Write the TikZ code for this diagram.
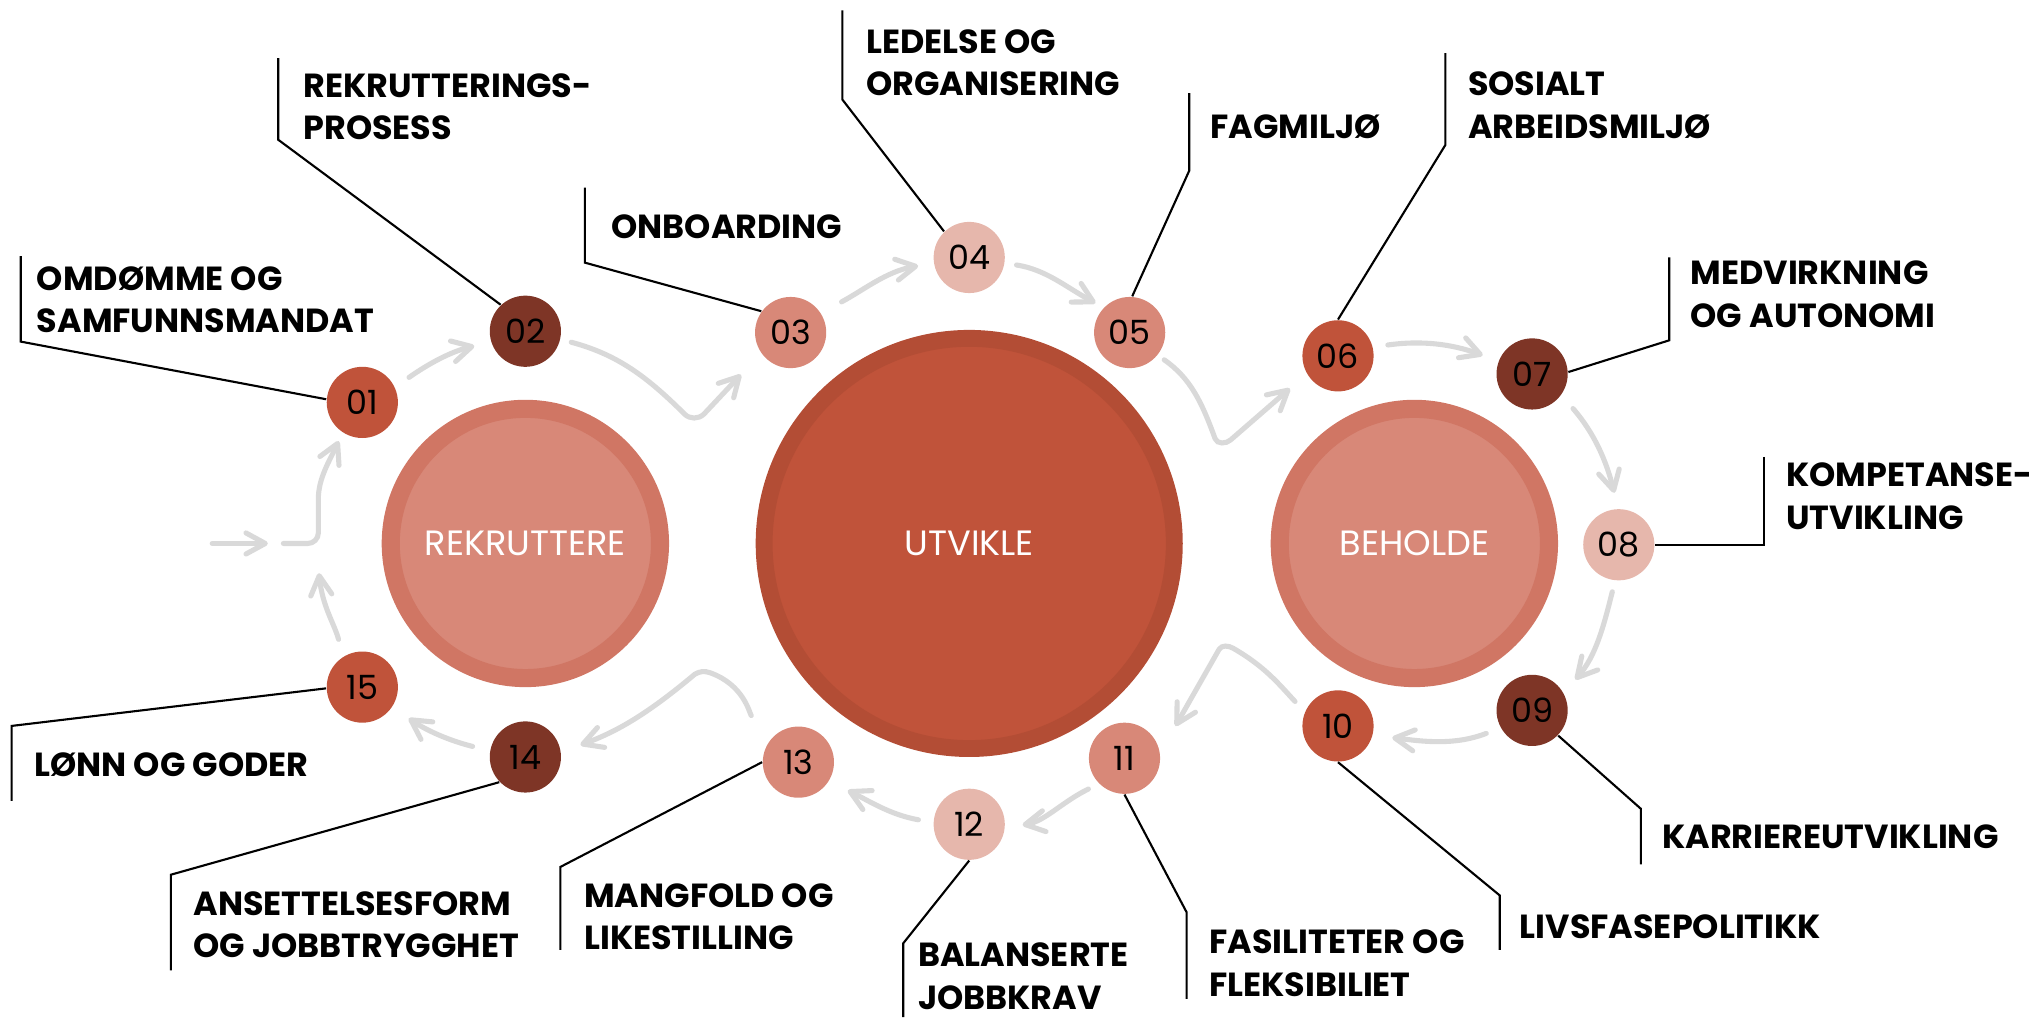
\documentclass[tikz,border=0pt]{standalone}
\usepackage{fontspec}
\setmainfont{Poppins}
\usetikzlibrary{arrows.meta}
\definecolor{flowgray}{HTML}{D9D9D9}
\definecolor{dotred}{HTML}{C0533A}
\definecolor{dotbrown}{HTML}{7E3526}
\definecolor{dotsalmon}{HTML}{D88878}
\definecolor{dotpink}{HTML}{E6B7AC}
\definecolor{hubring}{HTML}{D07664}
\definecolor{hubfill}{HTML}{D88878}
\definecolor{bigring}{HTML}{B34D35}
\definecolor{bigfill}{HTML}{C0533A}
\tikzset{
  dot/.style={circle,inner sep=0pt,minimum size=20.25pt,font=\fontsize{9.5}{11}\selectfont},
  hub/.style={circle,inner sep=0pt,line width=5.15pt,text=white,font=\fontsize{10}{12}\selectfont},
  tag/.style={anchor=base west,align=left,inner sep=0pt,font=\fontsize{9.5}{12.1}\selectfont\bfseries},
  lead/.style={draw=black,line width=0.6pt},
  flow/.style={draw=flowgray,line width=1.45pt,line cap=round,shorten <=4.8pt,shorten >=4.8pt,
    -{Straight Barb[length=5.5pt,width=6pt,round]}}
}
\begin{document}
\begin{tikzpicture}[x=0.01294cm,y=0.01294cm]
  \useasboundingbox (0,0) rectangle (1568,786);
  \node[hub,draw=hubring,fill=hubfill,minimum size=76.6pt] (rek) at (406,366) {REKRUTTERE};
  \node[hub,draw=bigring,fill=bigfill,line width=4.8pt,minimum size=116.7pt] (utv) at (749,366) {UTVIKLE};
  \node[hub,draw=hubring,fill=hubfill,minimum size=76.6pt] (beh) at (1093,366) {BEHOLDE};

  \node[dot,fill=dotred] (c01) at (280,475) {01};
  \node[dot,fill=dotbrown] (c02) at (406,530) {02};
  \node[dot,fill=dotsalmon] (c03) at (611,529) {03};
  \node[dot,fill=dotpink] (c04) at (749,587) {04};
  \node[dot,fill=dotsalmon] (c05) at (873,529) {05};
  \node[dot,fill=dotred] (c06) at (1034,511) {06};
  \node[dot,fill=dotbrown] (c07) at (1184,497) {07};
  \node[dot,fill=dotpink] (c08) at (1251,365) {08};
  \node[dot,fill=dotbrown] (c09) at (1184,237) {09};
  \node[dot,fill=dotred] (c10) at (1034,225) {10};
  \node[dot,fill=dotsalmon] (c11) at (869,200) {11};
  \node[dot,fill=dotpink] (c12) at (749,149) {12};
  \node[dot,fill=dotsalmon] (c13) at (617,197) {13};
  \node[dot,fill=dotbrown] (c14) at (406,201) {14};
  \node[dot,fill=dotred] (c15) at (280,255) {15};

  \node[tag] (t01) at (28,529) {OMDØMME OG\\SAMFUNNSMANDAT};
  \node[tag] (t02) at (234,678) {REKRUTTERINGS-\\PROSESS};
  \node[tag] (t03) at (472,602) {ONBOARDING};
  \node[tag] (t04) at (669,712) {LEDELSE OG\\ORGANISERING};
  \node[tag] (t05) at (935,679) {FAGMILJØ};
  \node[tag] (t06) at (1134,679) {SOSIALT\\ARBEIDSMILJØ};
  \node[tag] (t07) at (1306,533) {MEDVIRKNING\\OG AUTONOMI};
  \node[tag] (t08) at (1380,377) {KOMPETANSE-\\UTVIKLING};
  \node[tag] (t09) at (1284,130) {KARRIEREUTVIKLING};
  \node[tag] (t10) at (1174,61) {LIVSFASEPOLITIKK};
  \node[tag] (t11) at (934,16) {FASILITETER OG\\FLEKSIBILIET};
  \node[tag] (t12) at (709,6) {BALANSERTE\\JOBBKRAV};
  \node[tag] (t13) at (451,52) {MANGFOLD OG\\LIKESTILLING};
  \node[tag] (t14) at (149,46) {ANSETTELSESFORM\\OG JOBBTRYGGHET};
  \node[tag] (t15) at (26,186) {LØNN OG GODER};

  \coordinate (k01a) at (16,588);  \coordinate (k01b) at (16,522);
  \coordinate (k02a) at (215,741); \coordinate (k02b) at (215,678);
  \coordinate (k03a) at (452,641); \coordinate (k03b) at (452,583);
  \coordinate (k04a) at (651,778); \coordinate (k04b) at (651,709);
  \coordinate (k05a) at (919,714); \coordinate (k05b) at (919,654);
  \coordinate (k06a) at (1117,745); \coordinate (k06b) at (1117,674);
  \coordinate (k07a) at (1290,587); \coordinate (k07b) at (1290,523);
  \coordinate (k08a) at (1363,433); \coordinate (k08b) at (1363,365);
  \coordinate (k09a) at (1268,118); \coordinate (k09b) at (1268,161);
  \coordinate (k10a) at (1159,52);  \coordinate (k10b) at (1159,94);
  \coordinate (k11a) at (917,14);   \coordinate (k11b) at (917,81);
  \coordinate (k12a) at (698,0);    \coordinate (k12b) at (698,57);
  \coordinate (k13a) at (433,52);   \coordinate (k13b) at (433,116);
  \coordinate (k14a) at (132,36);   \coordinate (k14b) at (132,110);
  \coordinate (k15a) at (9,167);    \coordinate (k15b) at (9,225);
  \draw[lead] (k01a) -- (k01b) -- (c01.175);
  \draw[lead] (k02a) -- (k02b) -- (c02.133);
  \draw[lead] (k03a) -- (k03b) -- (c03.144);
  \draw[lead] (k04a) -- (k04b) -- (c04.134);
  \draw[lead] (k05a) -- (k05b) -- (c05.86);
  \draw[lead] (k06a) -- (k06b) -- (c06.90);
  \draw[lead] (k07a) -- (k07b) -- (c07.3);
  \draw[lead] (k08a) -- (k08b) -- (c08.east);
  \draw[lead] (k09a) -- (k09b) -- (c09.-44);
  \draw[lead] (k10a) -- (k10b) -- (c10.-90);
  \draw[lead] (k11a) -- (k11b) -- (c11.-90);
  \draw[lead] (k12a) -- (k12b) -- (c12.-90);
  \draw[lead] (k13a) -- (k13b) -- (c13.180);
  \draw[lead] (k14a) -- (k14b) -- (c14.224);
  \draw[lead] (k15a) -- (k15b) -- (c15.182);

  \coordinate (in0) at (164,366); \coordinate (in1) at (207,366);
  \coordinate (in2) at (219,366); \coordinate (in3) at (246,366); \coordinate (in4) at (246,392);
  \coordinate (m15) at (246.5,343);
  \coordinate (b23a) at (529,466); \coordinate (b23b) at (544,466);
  \coordinate (e56a) at (939,447); \coordinate (e56b) at (951,446);
  \coordinate (j1011a) at (953,285); \coordinate (j1011b) at (942,284);
  \coordinate (m1314a) at (549,266); \coordinate (m1314b) at (537,265);
  \draw[flow,shorten <=0pt,shorten >=0pt] (in0) -- (in1);
  \draw[flow,rounded corners=3pt,shorten <=0pt,shorten >=2.6pt] (in2) -- (in3) -- (in4) to[out=90,in=245] (c01.237);
  \draw[flow] (c01.25) to[out=35,in=194] (c02.197);
  \draw[flow,shorten <=3.1pt,shorten >=8.3pt] (c02.-13) to[out=-15,in=135] (b23a) to[out=-45,in=-136] (b23b) -- (c03.215);
  \draw[flow,shorten <=6.6pt,shorten >=4.4pt] (c03.33) to[out=28,in=190] (c04.189);
  \draw[flow,shorten <=3.3pt,shorten >=2.6pt] (c04.-9) to[out=-9,in=152] (c05.136);
  \draw[flow,shorten <=2.2pt,shorten >=6.3pt] (c05.-39) to[out=-35,in=110] (e56a) to[out=-70,in=-138] (e56b) -- (c06.210);
  \draw[flow,shorten <=4.2pt,shorten >=4.7pt] (c06.14) to[out=8,in=160] (c07.159);
  \draw[flow,shorten <=5pt,shorten >=4.6pt] (c07.-36) to[out=-49,in=104] (c08.91);
  \draw[flow,shorten <=3.2pt,shorten >=5pt] (c08.264) to[out=-104,in=49] (c09.29);
  \draw[flow,shorten <=4.3pt,shorten >=5.5pt] (c09.209) to[out=201,in=-7] (c10.-15);
  \draw[flow,shorten <=4pt,shorten >=8.7pt] (c10.157) to[out=133,in=-30] (j1011a) to[out=150,in=60] (j1011b) -- (c11.9);
  \draw[flow,shorten <=3.3pt,shorten >=5pt] (c11.225) to[out=206,in=10] (c12.-6);
  \draw[flow,shorten <=4.2pt,shorten >=5.9pt] (c12.177) to[out=170,in=-26] (c13.-32);
  \draw[flow,shorten <=9pt,shorten >=5.8pt] (c13.147) to[out=122,in=-20] (m1314a) to[out=160,in=30] (m1314b) to[out=220,in=20] (c14.8);
  \draw[flow,shorten <=5pt,shorten >=5.6pt] (c14.170) to[out=166,in=-34] (c15.-34);
  \draw[flow,shorten <=5pt,shorten >=0pt] (c15.122) to[out=105,in=-84] (m15);
\end{tikzpicture}
\end{document}
